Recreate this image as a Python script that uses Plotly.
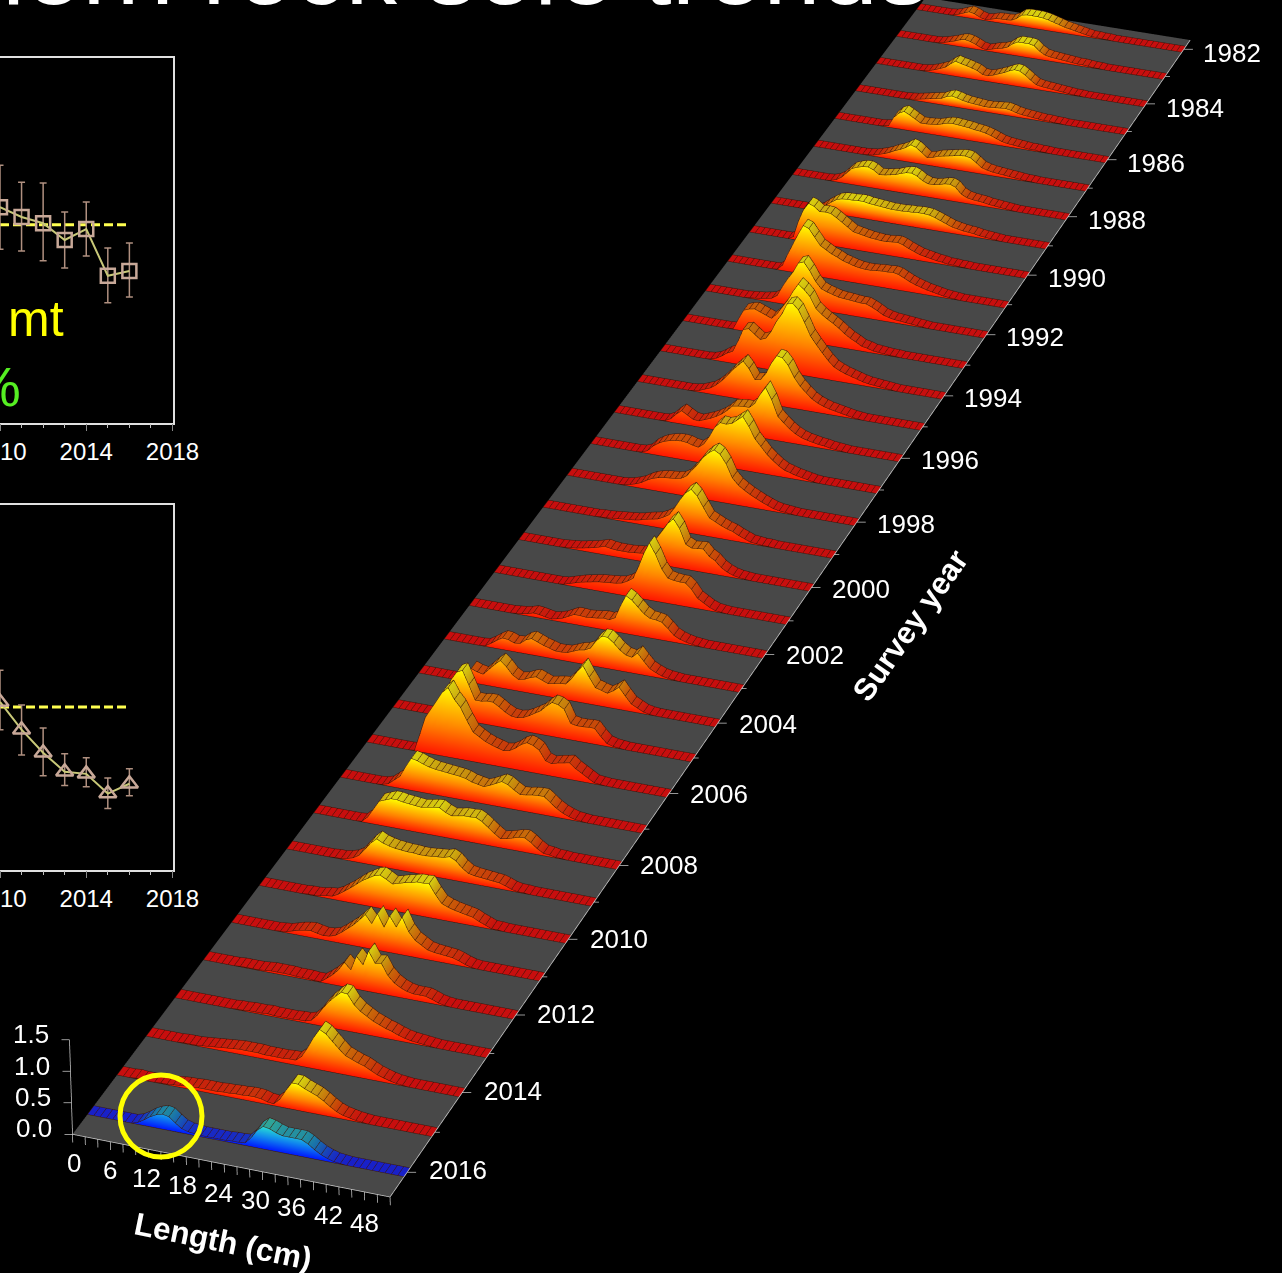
import numpy as np
import plotly.graph_objects as go

W, H = 1282, 1273
LENGTHS = list(range(51))
YEARS = list(range(1982, 2017))
y1982 = [0,0,0,0,0,0,0,1,4,8, 12,10,5,2,4,7,8,8,9,14, 22,24,24,24,23,21,18,15,12,10, 8,6,4,2,2,1,1,0,0,0, 0,0,0,0,0,0,0,0,0,0,0]
y1983 = [0,0,0,0,0,0,0,0,1,3, 6,9,13,15,13,9,4,2,5,8, 10,14,22,27,27,27,25,16,10,8, 7,6,5,4,3,3,2,1,1,0, 0,0,0,0,0,0,0,0,0,0,0]
y1984 = [0,0,0,0,0,0,0,0,0,1, 3,6,10,14,22,29,26,24,21,18, 12,11,14,18,22,27,31,30,24,16, 9,7,6,5,4,3,2,1,1,0, 0,0,0,0,0,0,0,0,0,0,0]
y1985 = [0,0,0,0,0,0,0,0,0,0, 1,2,4,6,8,10,12,17,20,18, 15,13,12,11,10,10,11,12,13,11, 8,6,5,4,3,2,2,1,1,0, 0,0,0,0,0,0,0,0,0,0,0]
y1986 = [0,0,0,0,0,0,0,0,0,1, 3,20,30,35,30,24,18,18,19,20, 23,26,27,26,25,24,22,21,19,16, 12,8,6,5,4,3,2,2,1,1, 0,0,0,0,0,0,0,0,0,0,0]
y1987 = [0,0,0,0,0,0,0,0,0,0, 1,2,5,8,12,17,21,26,33,30, 22,14,16,20,22,24,26,28,29,27, 20,12,9,7,6,5,4,3,2,1, 1,0,0,0,0,0,0,0,0,0,0]
y1988 = [0,0,0,0,0,0,0,1,4,10, 20,30,34,37,38,34,27,28,30,32, 36,39,40,36,29,25,25,27,30,31, 27,16,11,9,8,7,5,4,3,2, 1,0,0,0,0,0,0,0,0,0,0]
y1989 = [0,0,0,0,0,0,0,0,1,5, 13,20,27,30,31,31,32,32,30,29, 28,27,26,26,26,27,27,28,28,27, 24,20,16,12,10,8,7,6,4,3, 2,1,0,0,0,0,0,0,0,0,0]
y1990 = [0,0,0,0,0,0,0,0,5,35, 58,72,68,60,61,60,54,47,40,33, 31,29,27,26,25,25,26,27,24,19, 15,11,9,7,5,4,2,2,1,1, 0,0,0,0,0,0,0,0,0,0,0]
y1991 = [0,0,0,0,0,0,0,0,0,1, 10,32,52,72,90,86,72,58,52,46, 42,37,34,31,29,28,28,29,30,30, 31,29,24,19,15,12,9,7,5,3, 2,1,0,0,0,0,0,0,0,0,0]
y1992 = [0,0,0,0,0,0,0,0,1,2, 3,5,7,14,32,48,62,80,84,70, 52,40,36,33,30,29,28,27,26,26, 22,17,11,8,6,5,4,3,2,1, 0,0,0,0,0,0,0,0,0,0,0]
y1993 = [0,0,0,0,0,0,0,0,0,1, 20,38,42,44,40,36,32,42,56,70, 88,103,95,84,64,55,48,42,35,27, 20,15,9,7,4,3,2,1,1,0, 0,0,0,0,0,0,0,0,0,0,0]
y1994 = [0,0,0,0,0,0,0,0,0,1, 4,10,17,22,42,65,68,60,52,56, 70,90,105,125,128,118,97,74,60,47, 35,25,20,16,13,10,7,5,4,3, 2,1,0,0,0,0,0,0,0,0,0]
y1995 = [0,0,0,0,0,0,0,0,0,0, 1,3,7,11,18,27,38,50,60,70, 58,40,42,55,75,90,88,76,56,42, 32,23,17,13,10,8,6,4,2,1, 0,0,0,0,0,0,0,0,0,0,0]
y1996 = [0,0,0,0,0,0,0,0,0,1, 6,16,24,18,12,11,15,19,24,30, 38,48,50,51,51,60,78,92,72,44, 34,25,18,13,10,8,6,5,3,2, 1,0,0,0,0,0,0,0,0,0,0]
y1997 = [0,0,0,0,0,0,0,0,0,1, 5,15,22,27,30,32,33,32,29,27, 35,50,68,78,77,80,88,96,80,60, 48,36,27,19,13,10,7,5,3,1, 0,0,0,0,0,0,0,0,0,0,0]
y1998 = [0,0,0,0,0,0,0,0,0,0, 1,3,6,10,16,21,24,26,27,28, 30,36,48,60,74,84,91,85,70,47, 36,29,23,18,13,9,5,3,2,1, 0,0,0,0,0,0,0,0,0,0,0]
y1999 = [0,0,0,0,0,0,0,0,0,0, 1,1,2,3,4,5,6,8,11,13, 15,20,26,40,56,70,78,68,50,33, 28,23,19,16,11,7,3,2,1,1, 0,0,0,0,0,0,0,0,0,0,0]
y2000 = [0,0,0,0,0,0,0,0,1,2, 3,5,7,9,12,15,13,12,12,12, 13,14,16,28,46,60,75,85,70,44, 39,40,41,30,24,14,8,4,2,1, 0,0,0,0,0,0,0,0,0,0,0]
y2001 = [0,0,0,0,0,0,0,0,0,0, 0,0,1,4,7,10,12,14,16,17, 18,19,21,26,33,55,80,100,82,58, 44,42,41,41,32,18,12,6,2,1, 0,0,0,0,0,0,0,0,0,0,0]
y2002 = [0,0,0,0,0,0,0,0,1,2, 4,7,6,4,2,4,7,12,17,17, 16,17,18,20,19,24,46,66,60,50, 40,34,33,31,22,12,7,4,2,1, 0,0,0,0,0,0,0,0,0,0,0]
y2003 = [0,0,0,0,0,0,0,1,7,14, 20,19,15,16,24,28,24,20,17,14, 14,15,19,23,25,30,44,54,54,46, 36,29,27,36,24,13,8,4,2,1, 0,0,0,0,0,0,0,0,0,0,0]
y2004 = [0,0,0,0,0,0,0,1,6,24, 20,18,28,38,47,38,26,20,22,27, 30,26,22,24,26,27,38,52,64,46, 30,27,24,30,38,25,13,8,3,1, 0,0,0,0,0,0,0,0,0,0,0]
y2005 = [0,0,0,0,0,0,0,2,14,40, 65,80,85,62,38,38,40,40,34,27, 22,21,23,28,34,40,50,58,56,50, 28,26,26,27,27,15,5,2,1,0, 0,0,0,0,0,0,0,0,0,0,0]
y2006 = [0,0,0,0,0,0,0,0,1,30, 60,76,92,108,118,100,88,68,50,44, 38,34,31,28,30,36,44,49,46,40, 24,21,24,26,28,20,14,8,2,1, 0,0,0,0,0,0,0,0,0,0,0]
y2007 = [0,0,0,0,0,0,0,1,4,12, 20,38,54,52,48,45,43,42,41,40, 39,37,33,31,29,33,38,43,40,33, 27,28,30,31,31,23,15,9,5,2, 1,0,0,0,0,0,0,0,0,0,0]
y2008 = [0,0,0,0,0,0,0,0,1,10, 25,40,44,48,48,46,45,44,43,45, 47,48,42,38,40,42,42,43,38,30, 22,15,17,20,23,24,18,10,4,3, 1,1,0,0,0,0,0,0,0,0,0]
y2009 = [0,0,0,0,0,0,0,0,1,1, 3,6,12,24,36,45,40,37,35,34, 33,33,32,32,33,34,35,38,33,23, 16,14,13,12,11,10,7,3,1,1, 0,0,0,0,0,0,0,0,0,0,0]
y2010 = [0,0,0,0,0,0,0,0,1,1, 2,4,5,10,17,24,32,40,46,52, 55,50,44,47,50,52,55,55,56,40, 27,23,20,18,16,14,9,5,1,1, 0,0,0,0,0,0,0,0,0,0,0]
y2011 = [0,0,0,0,0,0,0,0,1,2, 5,8,10,11,9,7,8,11,18,26, 34,44,55,42,60,40,60,44,62,40, 28,22,16,14,13,12,11,8,4,1, 0,0,0,0,0,0,0,0,0,0,0]
y2012 = [0,0,0,0,0,0,1,1,1,1, 2,3,3,3,3,2,2,2,1,1, 8,16,26,40,30,54,42,66,48,50, 32,22,16,12,10,10,10,7,3,1, 0,0,0,0,0,0,0,0,0,0,0]
y2013 = [0,0,0,0,0,0,0,0,0,0, 1,1,2,2,2,3,2,2,2,2, 3,3,6,16,30,42,52,61,60,45, 36,30,24,20,16,13,9,6,4,3, 2,1,0,0,0,0,0,0,0,0,0]
y2014 = [0,0,0,0,0,0,1,1,1,2, 3,4,5,6,7,8,8,8,8,7, 7,7,7,8,8,16,32,50,65,60, 50,40,31,27,23,20,15,10,7,4, 2,1,0,0,0,0,0,0,0,0,0]
y2015 = [0,0,0,1,0,0,0,1,1,2, 3,4,4,5,5,5,5,6,6,7, 7,8,8,7,4,3,12,28,42,42, 37,33,29,23,16,10,6,4,2,1, 0,0,0,0,0,0,0,0,0,0,0]
y2016 = [0,0,0,0,0,0,0,0,3,9, 16,21,24,22,14,7,4,3,2,2, 2,2,2,3,3,4,14,28,36,34, 30,27,27,27,27,22,15,9,5,2, 1,0,0,0,0,0,0,0,0,0,0]
ROWS = [y1982,y1983,y1984,y1985,y1986,y1987,y1988,y1989,y1990,y1991,y1992,y1993,y1994,y1995,y1996,y1997,y1998,y1999,
        y2000,y2001,y2002,y2003,y2004,y2005,y2006,y2007,y2008,y2009,y2010,y2011,y2012,y2013,y2014,y2015,y2016]

X_TICKS = [0, 6, 12, 18, 24, 30, 36, 42, 48]
Y_TICKS = list(range(1982, 2017, 2))
Z_TICKS = [0.0, 0.5, 1.0, 1.5]

PANEL_YEARS = [2010, 2011, 2012, 2013, 2014, 2015, 2016]
biomass = [59, 56.3, 54.6, 50, 53, 40.2, 41.5]
biomass_hi = [70.5, 65.8, 65.6, 57.7, 60.4, 47.8, 49.2]
biomass_lo = [47.5, 47, 44.3, 42.3, 45.6, 32.8, 34.4]
biomass_mean = 54.2
abund = [45.9, 38.3, 32, 26.8, 26.2, 20.8, 23.5]
abund_hi = [54.6, 45.1, 38.8, 31.7, 30.6, 25.1, 27.6]
abund_lo = [38.3, 31.4, 25.7, 23, 22.7, 16.7, 20.2]
abund_mean = 44.5

Y_FRONT, Y_BACK = 2016.5, 1981.55
BAND = 0.22

# The slide's oblique view: a plane-to-page homography calibrated on the floor
# of the plot, applied to (length, year, density).
CALIB = np.array([
 (0,2016.5,75,1130),(50,2016.5,393,1193),(50,1981.55,1191,41),(0,1981.55,926,0),
 (50,1981.9,1182,53),(50,1983.9,1144,108),(50,1985.9,1105,163),(50,1987.9,1067,220),(50,1989.9,1025,277),
 (50,1993.9,943,397),(50,2001.9,765,654),(50,2003.9,717,723),(50,2007.9,620,864),(50,2011.9,515,1014),
 (50,2013.9,460,1092),(50,2015.9,407,1172),
 (0,1981.9,917,12),(0,2015.9,90,1110),(0,2002.9,447,635),(0,1993.9,663,349),(0,2007.9,317,808),(48,2016.5,380,1190)],float)
_u=CALIB[:,0]/50; _v=(CALIB[:,1]-2000)/20
_A=[];_b=[]
for a,b,s,t in zip(_u,_v,CALIB[:,2],CALIB[:,3]):
    _A.append([a,b,1,0,0,0,-a*s,-b*s]);_b.append(s)
    _A.append([0,0,0,a,b,1,-a*t,-b*t]);_b.append(t)
HM=np.linalg.lstsq(np.array(_A),np.array(_b),rcond=None)[0]
def project(x,year,z=0.0):
    x=np.asarray(x,float);year=np.asarray(year,float);z=np.asarray(z,float)
    a=x/50;b=(year-2000)/20
    w=HM[6]*a+HM[7]*b+1
    w0=HM[6]*0+HM[7]*(2016.5-2000)/20+1
    # density axis: 1.5 units span (-3,-94) px at the front corner
    sx=(HM[0]*a+HM[1]*b+HM[2]+z*(-2.0)*w0)/w
    sy=(HM[3]*a+HM[4]*b+HM[5]+z*(-62.7)*w0)/w
    return sx,sy

def depth(year): return 2017.0-np.asarray(year,float)

RED_FACE=[(0,(255,21,0)),(0.45,(255,136,0)),(0.8,(255,208,0)),(1,(255,255,0))]
RED_BAND=[(0,(200,14,14)),(0.4,(200,90,8)),(0.75,(200,154,16)),(1,(216,208,16))]
BLUE_FACE=[(0,(0,24,255)),(0.5,(16,130,240)),(1,(40,224,212))]
BLUE_BAND=[(0,(24,32,200)),(0.5,(24,120,168)),(1,(48,168,152))]
def cmap(t,scale):
    ps=[s[0] for s in scale]
    return "rgb(%d,%d,%d)"%tuple(np.interp(t,ps,[s[1][k] for s in scale]) for k in range(3))
flat=dict(ambient=1,diffuse=0,specular=0,roughness=1,fresnel=0)

fig=go.Figure()
xs=np.array(LENGTHS,float)
fx,fy=project([0,50,50,0],[Y_BACK,Y_BACK,Y_FRONT,Y_FRONT])
fig.add_mesh3d(x=fx,y=[38.0]*4,z=H-fy,i=[0,0],j=[1,2],k=[2,3],color="#484848",lighting=flat,flatshading=True,hoverinfo="skip")
fr=np.linspace(0,1,8)
mx,my,mz,mc,mi,mj,mk=[],[],[],[],[],[],[]
def vert(x,yr,z,c):
    sx,sy=project(x,yr,z)
    mx.append(float(sx));my.append(float(depth(yr)));mz.append(float(H-sy));mc.append(c)
    return len(mx)-1
lx,ly,lz=[],[],[]
def seg(xx,yy,zz):
    sx,sy=project(xx,yy,zz)
    lx.extend(sx.tolist()+[None]);ly.extend((depth(yy)-0.03).tolist()+[None]);lz.extend((H-sy).tolist()+[None])
for yr,row in zip(YEARS,ROWS):
    v=np.array(row,float)/100
    m=v.max()
    face,band=(BLUE_FACE,BLUE_BAND) if yr==2016 else (RED_FACE,RED_BAND)
    for i in range(xs.size-1):
        a,b=v[i],v[i+1]
        if a>0 or b>0:
            ids=[(vert(xs[i],yr,f*a,cmap(f*a/m,face)),vert(xs[i+1],yr,f*b,cmap(f*b/m,face))) for f in fr]
            for (p0,p1),(q0,q1) in zip(ids[:-1],ids[1:]):
                mi+=[p0,p0];mj+=[p1,q1];mk+=[q1,q0]
        ca,cb=cmap(a/m,band),cmap(b/m,band)
        p0=vert(xs[i],yr,a,ca);p1=vert(xs[i+1],yr,b,cb)
        q0=vert(xs[i],yr-BAND,a,ca);q1=vert(xs[i+1],yr-BAND,b,cb)
        mi+=[p0,p0];mj+=[p1,q1];mk+=[q1,q0]
    for i in range(xs.size):
        seg([xs[i],xs[i]],[yr-BAND,yr],[v[i],v[i]])
    seg(xs,np.full(xs.size,yr-BAND),v)
    seg(xs,np.full(xs.size,float(yr)),v)
    seg(xs,np.full(xs.size,float(yr)),0*v)
fig.add_mesh3d(x=mx,y=my,z=mz,i=mi,j=mj,k=mk,vertexcolor=mc,lighting=flat,flatshading=False,hoverinfo="skip")
fig.add_scatter3d(x=lx,y=ly,z=lz,mode="lines",line=dict(color="#3a1408",width=1),hoverinfo="skip",showlegend=False)

ex,ey,ez=[],[],[]
def axseg(sx,sy):
    ex.extend(list(sx)+[None]);ey.extend([0.5]*len(sx)+[None]);ez.extend([H-s for s in sy]+[None])
sx,sy=project([0,50],[Y_FRONT,Y_FRONT]);axseg(sx,sy)
sx,sy=project([50,50],[Y_FRONT,Y_BACK]);axseg(sx,sy)
sx,sy=project([0,0],[Y_FRONT,Y_FRONT],[0,1.5]);axseg(sx,sy)
for t in range(0,51,2):
    sx,sy=project([t,t],[Y_FRONT,Y_FRONT],[0,-0.13]);axseg(sx,sy)
for y in YEARS:
    sx,sy=project(50,y-BAND/2)
    axseg([float(sx),float(sx)+(9 if y%2==0 else 5)],[float(sy),float(sy)])
for t in Z_TICKS:
    sx,sy=project(0,Y_FRONT,t)
    axseg([float(sx),float(sx)-8],[float(sy),float(sy)])
fig.add_scatter3d(x=ex,y=ey,z=ez,mode="lines",line=dict(color="#c8c8c8",width=1.5),hoverinfo="skip",showlegend=False)

hidden=dict(visible=False)
fig.update_layout(template="none",scene=dict(
    domain=dict(x=[0,1],y=[0,1]),
    xaxis=dict(range=[0,W],**hidden),yaxis=dict(range=[0,40],**hidden),zaxis=dict(range=[0,H],**hidden),
    aspectmode="manual",aspectratio=dict(x=W/H*2.005,y=1,z=2.0105),
    camera=dict(eye=dict(x=0,y=-2,z=0),center=dict(x=0,y=0,z=0),up=dict(x=0,y=0,z=1),projection=dict(type="orthographic")),
    bgcolor="rgba(0,0,0,0)"))

def panel(n,top,bot,vals,hi,lo,mean,sym,msize):
    xa,ya=("xaxis","yaxis") if n==1 else ("xaxis2","yaxis2")
    xr,yr=("x","y") if n==1 else ("x2","y2")
    fig.add_scatter(x=[2010,2016],y=[mean,mean],mode="lines",xaxis=xr,yaxis=yr,line=dict(color="#ffff50",width=3,dash="9px,4px"),showlegend=False,hoverinfo="skip")
    fig.add_scatter(x=PANEL_YEARS,y=vals,mode="lines+markers",xaxis=xr,yaxis=yr,showlegend=False,
        line=dict(color="#c8c878",width=2),
        marker=dict(symbol=sym,size=msize,color="#c8a898",line=dict(color="#c8a898",width=2.5)),
        error_y=dict(type="data",symmetric=False,array=[a-b for a,b in zip(hi,vals)],arrayminus=[b-a for a,b in zip(lo,vals)],color="#b09080",thickness=1.5,width=3.5))
    fig.update_layout({xa:dict(domain=[0,172.5/W],range=[2010,2018],anchor=yr,automargin=False,tickvals=[2010,2014,2018],ticktext=["2010","2014","2018"],
            ticks="outside",ticklen=7,tickcolor="#888888",showline=True,mirror=True,linecolor="#e0e0e0",linewidth=1.5,showgrid=False,zeroline=False,
            ticklabeloverflow="allow",tickfont=dict(family="Liberation Sans",size=24,color="white"),
            minor=dict(tickvals=list(range(2010,2019)),ticks="outside",ticklen=4,tickcolor="#c0c0c0")),
        ya:dict(domain=[1-bot/H,1-top/H],range=[0,100],anchor=xr,automargin=False,side="right",showline=True,linecolor="#e0e0e0",linewidth=1.5,showgrid=False,zeroline=False,showticklabels=False,ticks="")})
panel(1,57.5,422.5,biomass,biomass_hi,biomass_lo,biomass_mean,"square-open",14)
panel(2,504.5,869.5,abund,abund_hi,abund_lo,abund_mean,"triangle-up-open",15)

def paper(px,py,xa="center",ya="middle"): return dict(xref="paper",yref="paper",x=float(px)/W,y=1-float(py)/H,xanchor=xa,yanchor=ya,showarrow=False)
F26=dict(family="Liberation Sans",size=26,color="white")
labels=[
 dict(text="Northern rock sole trends",**paper(931,28,"right","bottom"),font=dict(family="Liberation Sans",size=103,color="white")),
 dict(text="Length (cm)",**paper(223,1241),textangle=11.6,font=dict(family="Liberation Sans",size=31.5,color="white",weight="bold")),
 dict(text="Survey year",**paper(910,625),textangle=-55,font=dict(family="Liberation Sans",size=31,color="white",weight="bold")),
 dict(text="mt",**paper(66,319,"right"),font=dict(family="Liberation Sans",size=50,color="#ffff00")),
 dict(text="%",**paper(23,386,"right"),font=dict(family="Liberation Sans",size=56,color="#55ee22")),
]
for y in Y_TICKS:
    sx,sy=project(50,y-BAND/2)
    labels.append(dict(text=str(y),**paper(sx+50,sy+1),font=F26))
for t in X_TICKS:
    sx,sy=project(t,Y_FRONT)
    labels.append(dict(text=str(t),**paper(sx-0.27*t,sy+31),font=F26))
for t in Z_TICKS:
    sx,sy=project(0,Y_FRONT,t)
    labels.append(dict(text="%.1f"%t,**paper(sx-40,sy-3.5),font=F26))
fig.update_layout(width=W,height=H,autosize=False,margin=dict(l=0,r=0,t=0,b=0,pad=0),paper_bgcolor="black",plot_bgcolor="rgba(0,0,0,0)",
    showlegend=False,annotations=labels,
    shapes=[dict(type="circle",xref="paper",yref="paper",x0=(161-41)/W,x1=(161+41)/W,y0=1-(1116+41)/H,y1=1-(1116-41)/H,line=dict(color="#ffff00",width=5))])
fig.write_html("out.html",config={"displayModeBar":False},post_script="document.body.style.margin='0';document.body.style.overflow='hidden';")
